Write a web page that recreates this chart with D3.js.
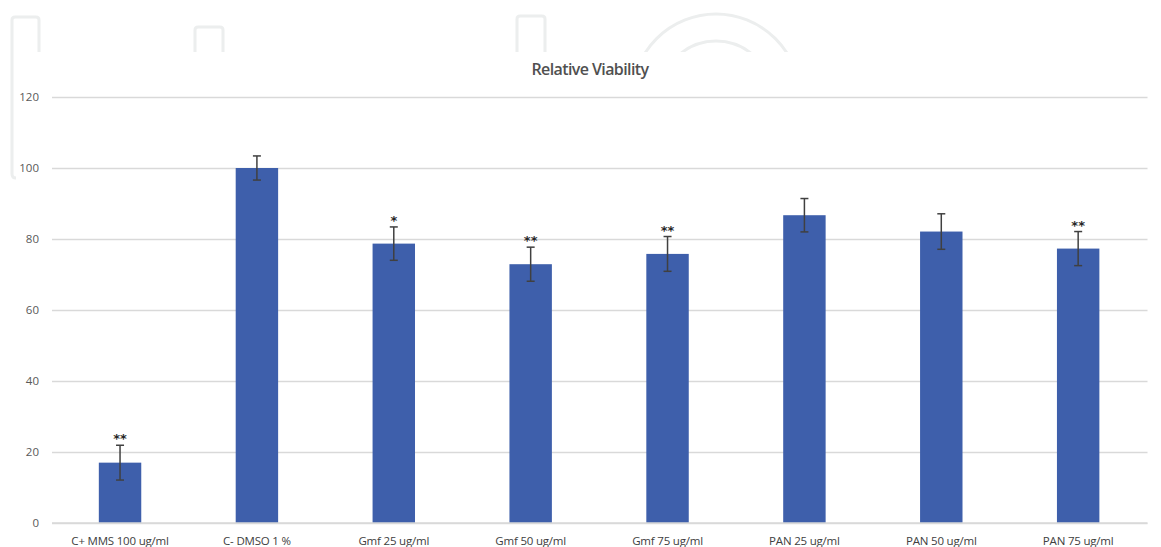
<!DOCTYPE html>
<html>
<head>
<meta charset="utf-8">
<script src="https://cdn.jsdelivr.net/npm/d3@7"></script>
<style>
  html, body { margin: 0; padding: 0; background: #fff; }
  svg { display: block; }
</style>
</head>
<body>
<script>
const categories = ["C+ MMS 100 ug/ml", "C- DMSO 1 %", "Gmf 25 ug/ml", "Gmf 50 ug/ml", "Gmf 75 ug/ml", "PAN 25 ug/ml", "PAN 50 ug/ml", "PAN 75 ug/ml"];
const values = [17.0, 100.0, 78.7, 72.9, 75.8, 86.7, 82.1, 77.3];
const errors = [4.9, 3.4, 4.7, 4.8, 4.9, 4.7, 5.0, 4.8];
const significance = ["**", "", "*", "**", "**", "", "", "**"];
const yTicks = [0, 20, 40, 60, 80, 100, 120];
const title = "Relative Viability";

const W = 1161, H = 547;
const svg = d3.select("body").append("svg").attr("width", W).attr("height", H);

// faint background watermark shapes
const deco = svg.append("g").attr("fill", "none").attr("stroke", "#eceeee").attr("stroke-width", 3);
deco.append("path").attr("d", "M39,52 V20 Q39,17 36,17 H15 Q12,17 12,20 V174 Q12,178 16,178");
deco.append("path").attr("d", "M195,52 V30 Q195,27 198,27 H220 Q223,27 223,30 V52");
deco.append("path").attr("d", "M517,52 V19 Q517,16 520,16 H542 Q545,16 545,19 V52");
svg.append("clipPath").attr("id", "arcclip").append("rect").attr("x", 600).attr("y", 0).attr("width", 250).attr("height", 52);
const arcs = deco.append("g").attr("clip-path", "url(#arcclip)");
arcs.append("circle").attr("cx", 716).attr("cy", 98).attr("r", 84);
arcs.append("circle").attr("cx", 716).attr("cy", 97).attr("r", 56);

const x = d3.scaleBand().domain(categories).range([51.6, 1146.6]).paddingInner(0.69).paddingOuter(0.345);
const y = d3.scaleLinear().domain([0, 120]).range([523, 97]);

// gridlines
const yAxis = d3.axisLeft(y).tickValues(yTicks).tickSize(-(1147.5 - 52)).tickPadding(13);
const gy = svg.append("g").attr("transform", "translate(52,0)").call(yAxis);
gy.select(".domain").remove();
gy.selectAll(".tick line").attr("stroke", "#d9d9d9").attr("stroke-width", 1.5);
gy.selectAll(".tick text").attr("fill", "#595959").attr("font-family", "'Open Sans', sans-serif")
  .attr("font-size", 11.5);

// bars
svg.append("g").selectAll("rect").data(categories).join("rect")
  .attr("x", d => x(d))
  .attr("width", x.bandwidth())
  .attr("y", (d, i) => y(values[i]))
  .attr("height", (d, i) => y(0) - y(values[i]))
  .attr("fill", "#3e5fab");

// baseline
svg.append("line").attr("x1", 52).attr("x2", 1147.5).attr("y1", y(0)).attr("y2", y(0))
  .attr("stroke", "#d9d9d9").attr("stroke-width", 1.5);

// error bars
const eb = svg.append("g").attr("stroke", "#404040").attr("stroke-width", 1.5);
categories.forEach((c, i) => {
  const cx = x(c) + x.bandwidth() / 2;
  const top = y(values[i] + errors[i]), bot = y(values[i] - errors[i]);
  eb.append("line").attr("x1", cx).attr("x2", cx).attr("y1", top).attr("y2", bot);
  eb.append("line").attr("x1", cx - 4).attr("x2", cx + 4).attr("y1", top).attr("y2", top);
  eb.append("line").attr("x1", cx - 4).attr("x2", cx + 4).attr("y1", bot).attr("y2", bot);
});

// significance marks
svg.append("g").selectAll("text").data(categories).join("text")
  .attr("x", d => x(d) + x.bandwidth() / 2)
  .attr("y", (d, i) => y(values[i] + errors[i]) - 2)
  .attr("text-anchor", "middle")
  .attr("font-family", "'DejaVu Sans', sans-serif")
  .attr("font-weight", "bold")
  .attr("font-size", 13)
  .attr("fill", "#262626")
  .text((d, i) => significance[i]);

// x axis labels
const xAxis = d3.axisBottom(x).tickSize(0).tickPadding(14);
const gx = svg.append("g").attr("transform", `translate(0,${y(0)})`).call(xAxis);
gx.select(".domain").remove();
gx.selectAll(".tick text").attr("fill", "#404040").attr("font-family", "'Open Sans', sans-serif")
  .attr("font-size", 11.5).attr("letter-spacing", -0.2);

// title
svg.append("text").attr("x", 590).attr("y", 75).attr("text-anchor", "middle")
  .attr("font-family", "'Open Sans', sans-serif").attr("font-size", 16)
  .attr("font-weight", 600)
  .attr("letter-spacing", -0.6)
  .attr("fill", "#505050").text(title);
</script>
</body>
</html>
